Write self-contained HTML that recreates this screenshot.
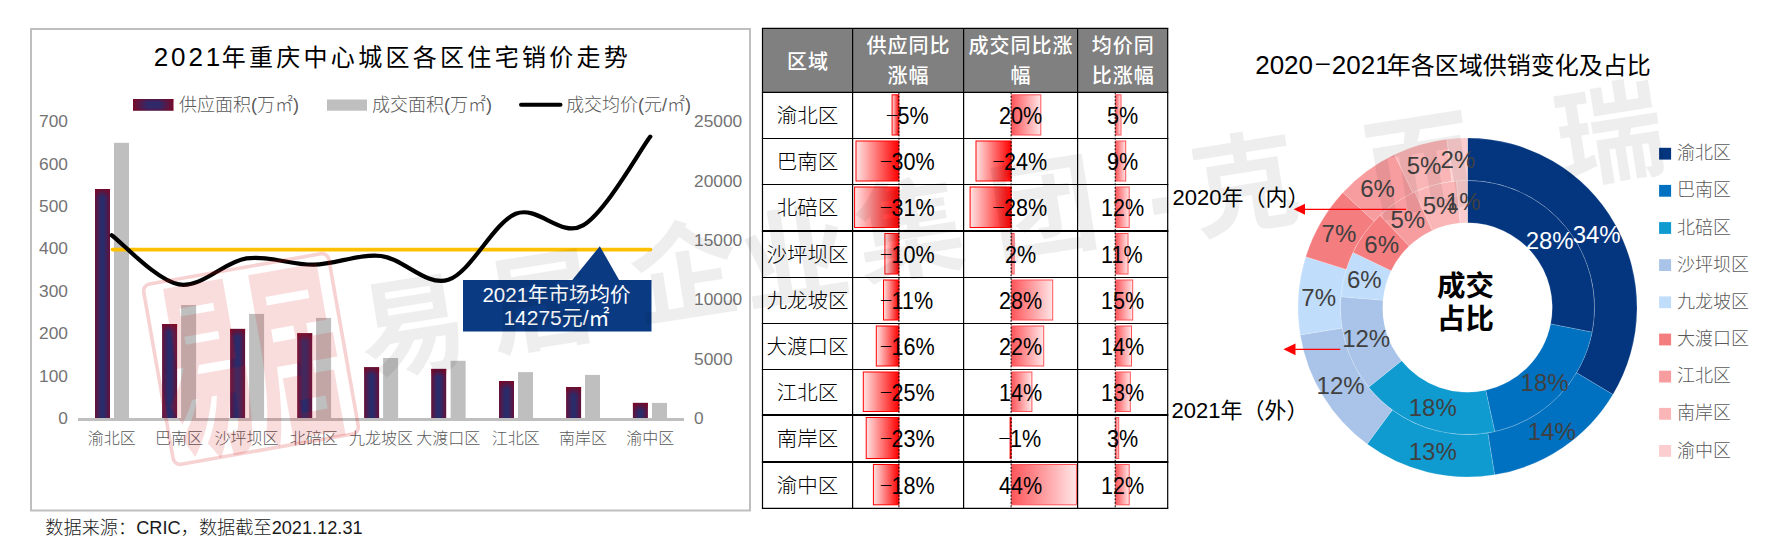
<!DOCTYPE html>
<html lang="zh"><head><meta charset="utf-8"><title>2021年重庆中心城区各区住宅销价走势</title>
<style>html,body{margin:0;padding:0;background:#fff;}body{width:1786px;height:556px;overflow:hidden;}svg{display:block;font-family:"Liberation Sans", "Noto Sans CJK SC", sans-serif;}</style>
</head><body>
<svg width="1786" height="556" viewBox="0 0 1786 556">
<defs>
<linearGradient id="gb" x1="0" x2="1" y1="0" y2="0"><stop offset="0" stop-color="#66103a"/><stop offset="0.4" stop-color="#2a2b6a"/><stop offset="0.6" stop-color="#2a2b6a"/><stop offset="1" stop-color="#66103a"/></linearGradient>
<linearGradient id="gt" x1="0" x2="0" y1="0" y2="1"><stop offset="0" stop-color="#80041f"/><stop offset="1" stop-color="#80041f" stop-opacity="0"/></linearGradient>
<linearGradient id="gbt" x1="0" x2="0" y1="1" y2="0"><stop offset="0" stop-color="#80041f"/><stop offset="1" stop-color="#80041f" stop-opacity="0"/></linearGradient>
<linearGradient id="neg" x1="1" x2="0" y1="0" y2="0"><stop offset="0" stop-color="#ff0000"/><stop offset="1" stop-color="#ffe3e3"/></linearGradient>
<linearGradient id="pos" x1="0" x2="1" y1="0" y2="0"><stop offset="0" stop-color="#ff555a"/><stop offset="1" stop-color="#ffe6e7"/></linearGradient>
</defs>
<rect width="1786" height="556" fill="#fff"/>
<g id="left-chart">
<rect x="31" y="29" width="719" height="481.5" fill="#fff" stroke="#bfbfbf" stroke-width="2"/>
<text x="153.7" y="66" font-size="24" fill="#000" letter-spacing="3.3"><tspan font-size="26" letter-spacing="2.9">2021</tspan><tspan dx="-1.5">年</tspan>重庆中心城区各区住宅销价走势</text>
<linearGradient id="gb2" x1="0" x2="1" y1="0" y2="0"><stop offset="0" stop-color="#780a2a"/><stop offset="0.35" stop-color="#30296a"/><stop offset="0.65" stop-color="#30296a"/><stop offset="1" stop-color="#780a2a"/></linearGradient>
<rect x="133" y="99" width="40.5" height="11.7" fill="url(#gb2)"/>
<rect x="133" y="99" width="40.5" height="3.5" fill="url(#gt)" opacity="0.45"/><rect x="133" y="107.2" width="40.5" height="3.5" fill="url(#gbt)" opacity="0.45"/>
<text x="179" y="111" font-size="18" fill="#595959" font-weight="300">供应面积(万㎡)</text>
<rect x="327" y="99.5" width="40" height="11.2" fill="#bfbfbf"/>
<text x="372" y="111" font-size="18" fill="#595959" font-weight="300">成交面积(万㎡)</text>
<line x1="521" y1="104.7" x2="560.5" y2="104.7" stroke="#000" stroke-width="4" stroke-linecap="round"/>
<text x="566" y="111" font-size="18" fill="#595959" font-weight="300">成交均价(元/㎡)</text>
<text x="68" y="424.0" font-size="17.33" fill="#737373" text-anchor="end">0</text>
<text x="68" y="381.6" font-size="17.33" fill="#737373" text-anchor="end">100</text>
<text x="68" y="339.2" font-size="17.33" fill="#737373" text-anchor="end">200</text>
<text x="68" y="296.8" font-size="17.33" fill="#737373" text-anchor="end">300</text>
<text x="68" y="254.4" font-size="17.33" fill="#737373" text-anchor="end">400</text>
<text x="68" y="212.0" font-size="17.33" fill="#737373" text-anchor="end">500</text>
<text x="68" y="169.6" font-size="17.33" fill="#737373" text-anchor="end">600</text>
<text x="68" y="127.2" font-size="17.33" fill="#737373" text-anchor="end">700</text>
<text x="694" y="424.2" font-size="17.33" fill="#737373">0</text>
<text x="694" y="364.8" font-size="17.33" fill="#737373">5000</text>
<text x="694" y="305.4" font-size="17.33" fill="#737373">10000</text>
<text x="694" y="245.9" font-size="17.33" fill="#737373">15000</text>
<text x="694" y="186.5" font-size="17.33" fill="#737373">20000</text>
<text x="694" y="127.1" font-size="17.33" fill="#737373">25000</text>
<rect x="95.0" y="189.0" width="15" height="230.5" fill="url(#gb)"/>
<rect x="95.0" y="189.0" width="15" height="8" fill="url(#gt)" opacity="0.8"/>
<rect x="114.0" y="142.8" width="15" height="276.7" fill="#bfbfbf"/>
<rect x="162.1" y="324.0" width="15" height="95.5" fill="url(#gb)"/>
<rect x="162.1" y="324.0" width="15" height="8" fill="url(#gt)" opacity="0.8"/>
<rect x="181.1" y="305.0" width="15" height="114.5" fill="#bfbfbf"/>
<rect x="230.1" y="328.9" width="15" height="90.6" fill="url(#gb)"/>
<rect x="230.1" y="328.9" width="15" height="8" fill="url(#gt)" opacity="0.8"/>
<rect x="249.1" y="313.9" width="15" height="105.6" fill="#bfbfbf"/>
<rect x="297.2" y="333.2" width="15" height="86.3" fill="url(#gb)"/>
<rect x="297.2" y="333.2" width="15" height="8" fill="url(#gt)" opacity="0.8"/>
<rect x="316.1" y="317.9" width="15" height="101.6" fill="#bfbfbf"/>
<rect x="364.1" y="367.2" width="15" height="52.3" fill="url(#gb)"/>
<rect x="364.1" y="367.2" width="15" height="8" fill="url(#gt)" opacity="0.8"/>
<rect x="383.1" y="358.0" width="15" height="61.5" fill="#bfbfbf"/>
<rect x="431.2" y="368.9" width="15" height="50.6" fill="url(#gb)"/>
<rect x="431.2" y="368.9" width="15" height="8" fill="url(#gt)" opacity="0.8"/>
<rect x="450.6" y="360.8" width="15" height="58.7" fill="#bfbfbf"/>
<rect x="499.0" y="381.0" width="15" height="38.5" fill="url(#gb)"/>
<rect x="499.0" y="381.0" width="15" height="8" fill="url(#gt)" opacity="0.8"/>
<rect x="518.0" y="372.1" width="15" height="47.4" fill="#bfbfbf"/>
<rect x="566.1" y="387.0" width="15" height="32.5" fill="url(#gb)"/>
<rect x="566.1" y="387.0" width="15" height="8" fill="url(#gt)" opacity="0.8"/>
<rect x="585.0" y="374.9" width="15" height="44.6" fill="#bfbfbf"/>
<rect x="632.9" y="402.9" width="15" height="16.6" fill="url(#gb)"/>
<rect x="632.9" y="402.9" width="15" height="8" fill="url(#gt)" opacity="0.8"/>
<rect x="652.0" y="402.9" width="15" height="16.6" fill="#bfbfbf"/>
<line x1="78" y1="419.5" x2="684" y2="419.5" stroke="#bfbfbf" stroke-width="3"/>
<text x="111.7" y="444" font-size="16" fill="#595959" text-anchor="middle" font-weight="300">渝北区</text>
<text x="179.0" y="444" font-size="16" fill="#595959" text-anchor="middle" font-weight="300">巴南区</text>
<text x="246.4" y="444" font-size="16" fill="#595959" text-anchor="middle" font-weight="300">沙坪坝区</text>
<text x="313.7" y="444" font-size="16" fill="#595959" text-anchor="middle" font-weight="300">北碚区</text>
<text x="381.0" y="444" font-size="16" fill="#595959" text-anchor="middle" font-weight="300">九龙坡区</text>
<text x="448.3" y="444" font-size="16" fill="#595959" text-anchor="middle" font-weight="300">大渡口区</text>
<text x="515.7" y="444" font-size="16" fill="#595959" text-anchor="middle" font-weight="300">江北区</text>
<text x="583.0" y="444" font-size="16" fill="#595959" text-anchor="middle" font-weight="300">南岸区</text>
<text x="650.3" y="444" font-size="16" fill="#595959" text-anchor="middle" font-weight="300">渝中区</text>
<line x1="112.5" y1="249.6" x2="650.5" y2="249.6" stroke="#ffc000" stroke-width="3.6" stroke-linecap="round"/>
<path d="M463 280 H572.3 L599.8 246.2 L619.1 280 H651.5 V331.5 H463 Z" fill="#0a3a82"/>
<text x="556.5" y="301.5" font-size="20.5" fill="#fff" text-anchor="middle">2021年市场均价</text>
<text x="556.5" y="325" font-size="21" fill="#fff" text-anchor="middle">14275元/㎡</text>
<path d="M111.7 235.2 C122.9 243.4 156.6 280.5 179.0 284.4 C201.5 288.3 223.9 261.7 246.4 258.4 C268.8 255.1 291.2 265.1 313.7 264.7 C336.1 264.3 358.6 253.5 381.0 256.0 C403.5 258.5 425.9 286.8 448.3 279.8 C470.8 272.8 493.2 222.9 515.7 213.8 C538.1 204.7 560.6 238.3 583.0 225.4 C605.5 212.5 639.1 151.4 650.3 136.6" fill="none" stroke="#000" stroke-width="4.2" stroke-linecap="round" stroke-linejoin="round"/>
</g>
<text x="45.3" y="534" font-size="18.2" fill="#1a1a1a" font-weight="300">数据来源：CRIC，数据截至2021.12.31</text>
<g id="table">
<rect x="762.5" y="28.4" width="405.2" height="63.9" fill="#808080"/>
<rect x="892.1" y="94.8" width="6.7" height="40.2" fill="url(#neg)" stroke="#ff0000" stroke-width="1"/>
<rect x="1011.6" y="94.8" width="29.2" height="40.2" fill="url(#pos)" stroke="#ff555a" stroke-width="1"/>
<rect x="1115.7" y="94.8" width="5.3" height="40.2" fill="url(#pos)" stroke="#ff555a" stroke-width="1"/>
<rect x="856.0" y="141.0" width="42.8" height="40.0" fill="url(#neg)" stroke="#ff0000" stroke-width="1"/>
<rect x="976.0" y="141.0" width="35.1" height="40.0" fill="url(#neg)" stroke="#ff0000" stroke-width="1"/>
<rect x="1115.7" y="141.0" width="10.0" height="40.0" fill="url(#pos)" stroke="#ff555a" stroke-width="1"/>
<rect x="854.6" y="187.0" width="44.3" height="40.5" fill="url(#neg)" stroke="#ff0000" stroke-width="1"/>
<rect x="970.1" y="187.0" width="41.1" height="40.5" fill="url(#neg)" stroke="#ff0000" stroke-width="1"/>
<rect x="1115.7" y="187.0" width="13.5" height="40.5" fill="url(#pos)" stroke="#ff555a" stroke-width="1"/>
<rect x="884.9" y="233.5" width="13.9" height="40.5" fill="url(#neg)" stroke="#ff0000" stroke-width="1"/>
<rect x="1011.6" y="233.5" width="2.5" height="40.5" fill="url(#pos)" stroke="#ff555a" stroke-width="1"/>
<rect x="1115.7" y="233.5" width="12.3" height="40.5" fill="url(#pos)" stroke="#ff555a" stroke-width="1"/>
<rect x="883.5" y="280.0" width="15.4" height="40.0" fill="url(#neg)" stroke="#ff0000" stroke-width="1"/>
<rect x="1011.6" y="280.0" width="41.1" height="40.0" fill="url(#pos)" stroke="#ff555a" stroke-width="1"/>
<rect x="1115.7" y="280.0" width="17.0" height="40.0" fill="url(#pos)" stroke="#ff555a" stroke-width="1"/>
<rect x="876.3" y="326.0" width="22.6" height="40.0" fill="url(#neg)" stroke="#ff0000" stroke-width="1"/>
<rect x="1011.6" y="326.0" width="32.1" height="40.0" fill="url(#pos)" stroke="#ff555a" stroke-width="1"/>
<rect x="1115.7" y="326.0" width="15.8" height="40.0" fill="url(#pos)" stroke="#ff555a" stroke-width="1"/>
<rect x="863.3" y="372.0" width="35.6" height="39.5" fill="url(#neg)" stroke="#ff0000" stroke-width="1"/>
<rect x="1011.6" y="372.0" width="20.3" height="39.5" fill="url(#pos)" stroke="#ff555a" stroke-width="1"/>
<rect x="1115.7" y="372.0" width="14.6" height="39.5" fill="url(#pos)" stroke="#ff555a" stroke-width="1"/>
<rect x="866.2" y="417.5" width="32.7" height="41.0" fill="url(#neg)" stroke="#ff0000" stroke-width="1"/>
<rect x="1010.1" y="417.5" width="1.0" height="41.0" fill="url(#neg)" stroke="#ff0000" stroke-width="1"/>
<rect x="1115.7" y="417.5" width="3.0" height="41.0" fill="url(#pos)" stroke="#ff555a" stroke-width="1"/>
<rect x="873.4" y="464.5" width="25.5" height="40.3" fill="url(#neg)" stroke="#ff0000" stroke-width="1"/>
<rect x="1011.6" y="464.5" width="64.8" height="40.3" fill="url(#pos)" stroke="#ff555a" stroke-width="1"/>
<rect x="1115.7" y="464.5" width="13.5" height="40.3" fill="url(#pos)" stroke="#ff555a" stroke-width="1"/>
<line x1="898.9" y1="92.3" x2="898.9" y2="508.3" stroke="#000" stroke-width="1" stroke-dasharray="2 1.5"/>
<line x1="1011.1" y1="92.3" x2="1011.1" y2="508.3" stroke="#000" stroke-width="1" stroke-dasharray="2 1.5"/>
<line x1="1115.2" y1="92.3" x2="1115.2" y2="508.3" stroke="#000" stroke-width="1" stroke-dasharray="2 1.5"/>
<line x1="761.9" y1="28.4" x2="1168.3" y2="28.4" stroke="#000" stroke-width="1.2"/>
<line x1="761.9" y1="92.3" x2="1168.3" y2="92.3" stroke="#000" stroke-width="1.2"/>
<line x1="761.9" y1="138.5" x2="1168.3" y2="138.5" stroke="#000" stroke-width="1.2"/>
<line x1="761.9" y1="184.5" x2="1168.3" y2="184.5" stroke="#000" stroke-width="1.2"/>
<line x1="761.9" y1="231.0" x2="1168.3" y2="231.0" stroke="#000" stroke-width="2.1"/>
<line x1="761.9" y1="277.5" x2="1168.3" y2="277.5" stroke="#000" stroke-width="1.2"/>
<line x1="761.9" y1="323.5" x2="1168.3" y2="323.5" stroke="#000" stroke-width="1.2"/>
<line x1="761.9" y1="369.5" x2="1168.3" y2="369.5" stroke="#000" stroke-width="1.2"/>
<line x1="761.9" y1="415.0" x2="1168.3" y2="415.0" stroke="#000" stroke-width="2.1"/>
<line x1="761.9" y1="462.0" x2="1168.3" y2="462.0" stroke="#000" stroke-width="2.1"/>
<line x1="761.9" y1="508.3" x2="1168.3" y2="508.3" stroke="#000" stroke-width="1.2"/>
<line x1="762.5" y1="28.4" x2="762.5" y2="508.3" stroke="#000" stroke-width="1.2"/>
<line x1="852.6" y1="28.4" x2="852.6" y2="508.3" stroke="#000" stroke-width="1.2"/>
<line x1="963.6" y1="28.4" x2="963.6" y2="508.3" stroke="#000" stroke-width="1.2"/>
<line x1="1077.6" y1="28.4" x2="1077.6" y2="508.3" stroke="#000" stroke-width="1.2"/>
<line x1="1167.7" y1="28.4" x2="1167.7" y2="508.3" stroke="#000" stroke-width="1.2"/>
<text x="808.0" y="68.5" font-size="20" fill="#fff" text-anchor="middle" font-weight="500" letter-spacing="1">区域</text>
<text x="908.6" y="53.0" font-size="20" fill="#fff" text-anchor="middle" font-weight="500" letter-spacing="1">供应同比</text>
<text x="908.6" y="83.2" font-size="20" fill="#fff" text-anchor="middle" font-weight="500" letter-spacing="1">涨幅</text>
<text x="1021.1" y="53.0" font-size="20" fill="#fff" text-anchor="middle" font-weight="500" letter-spacing="1">成交同比涨</text>
<text x="1021.1" y="83.2" font-size="20" fill="#fff" text-anchor="middle" font-weight="500" letter-spacing="1">幅</text>
<text x="1123.2" y="53.0" font-size="20" fill="#fff" text-anchor="middle" font-weight="500" letter-spacing="1">均价同</text>
<text x="1123.2" y="83.2" font-size="20" fill="#fff" text-anchor="middle" font-weight="500" letter-spacing="1">比涨幅</text>
<text x="807.5" y="122.9" font-size="20.5" fill="#000" text-anchor="middle" font-weight="300">渝北区</text>
<text transform="translate(885.1 118.8) scale(3.54 1)" font-size="12" fill="#000">-</text>
<text transform="translate(897.5 124.0) scale(1 1.11)" font-size="21.6" fill="#000">5%</text>
<text transform="translate(999.0 124.0) scale(1 1.11)" font-size="21.6" fill="#000">20%</text>
<text transform="translate(1107.0 124.0) scale(1 1.11)" font-size="21.6" fill="#000">5%</text>
<text x="807.5" y="169.0" font-size="20.5" fill="#000" text-anchor="middle" font-weight="300">巴南区</text>
<text transform="translate(879.1 164.9) scale(3.54 1)" font-size="12" fill="#000">-</text>
<text transform="translate(891.5 170.1) scale(1 1.11)" font-size="21.6" fill="#000">30%</text>
<text transform="translate(991.6 164.9) scale(3.54 1)" font-size="12" fill="#000">-</text>
<text transform="translate(1004.0 170.1) scale(1 1.11)" font-size="21.6" fill="#000">24%</text>
<text transform="translate(1107.0 170.1) scale(1 1.11)" font-size="21.6" fill="#000">9%</text>
<text x="807.5" y="215.2" font-size="20.5" fill="#000" text-anchor="middle" font-weight="300">北碚区</text>
<text transform="translate(879.1 211.2) scale(3.54 1)" font-size="12" fill="#000">-</text>
<text transform="translate(891.5 216.3) scale(1 1.11)" font-size="21.6" fill="#000">31%</text>
<text transform="translate(991.6 211.2) scale(3.54 1)" font-size="12" fill="#000">-</text>
<text transform="translate(1004.0 216.3) scale(1 1.11)" font-size="21.6" fill="#000">28%</text>
<text transform="translate(1101.0 216.3) scale(1 1.11)" font-size="21.6" fill="#000">12%</text>
<text x="807.5" y="261.8" font-size="20.5" fill="#000" text-anchor="middle" font-weight="300">沙坪坝区</text>
<text transform="translate(879.1 257.6) scale(3.54 1)" font-size="12" fill="#000">-</text>
<text transform="translate(891.5 262.9) scale(1 1.11)" font-size="21.6" fill="#000">10%</text>
<text transform="translate(1005.0 262.9) scale(1 1.11)" font-size="21.6" fill="#000">2%</text>
<text transform="translate(1101.0 262.9) scale(1 1.11)" font-size="21.6" fill="#000">11%</text>
<text x="807.5" y="308.0" font-size="20.5" fill="#000" text-anchor="middle" font-weight="300">九龙坡区</text>
<text transform="translate(879.1 303.9) scale(3.54 1)" font-size="12" fill="#000">-</text>
<text transform="translate(891.5 309.1) scale(1 1.11)" font-size="21.6" fill="#000">11%</text>
<text transform="translate(999.0 309.1) scale(1 1.11)" font-size="21.6" fill="#000">28%</text>
<text transform="translate(1101.0 309.1) scale(1 1.11)" font-size="21.6" fill="#000">15%</text>
<text x="807.5" y="354.0" font-size="20.5" fill="#000" text-anchor="middle" font-weight="300">大渡口区</text>
<text transform="translate(879.1 349.9) scale(3.54 1)" font-size="12" fill="#000">-</text>
<text transform="translate(891.5 355.1) scale(1 1.11)" font-size="21.6" fill="#000">16%</text>
<text transform="translate(999.0 355.1) scale(1 1.11)" font-size="21.6" fill="#000">22%</text>
<text transform="translate(1101.0 355.1) scale(1 1.11)" font-size="21.6" fill="#000">14%</text>
<text x="807.5" y="399.8" font-size="20.5" fill="#000" text-anchor="middle" font-weight="300">江北区</text>
<text transform="translate(879.1 395.6) scale(3.54 1)" font-size="12" fill="#000">-</text>
<text transform="translate(891.5 400.9) scale(1 1.11)" font-size="21.6" fill="#000">25%</text>
<text transform="translate(999.0 400.9) scale(1 1.11)" font-size="21.6" fill="#000">14%</text>
<text transform="translate(1101.0 400.9) scale(1 1.11)" font-size="21.6" fill="#000">13%</text>
<text x="807.5" y="446.0" font-size="20.5" fill="#000" text-anchor="middle" font-weight="300">南岸区</text>
<text transform="translate(879.1 441.9) scale(3.54 1)" font-size="12" fill="#000">-</text>
<text transform="translate(891.5 447.1) scale(1 1.11)" font-size="21.6" fill="#000">23%</text>
<text transform="translate(997.6 441.9) scale(3.54 1)" font-size="12" fill="#000">-</text>
<text transform="translate(1010.0 447.1) scale(1 1.11)" font-size="21.6" fill="#000">1%</text>
<text transform="translate(1107.0 447.1) scale(1 1.11)" font-size="21.6" fill="#000">3%</text>
<text x="807.5" y="492.6" font-size="20.5" fill="#000" text-anchor="middle" font-weight="300">渝中区</text>
<text transform="translate(879.1 488.5) scale(3.54 1)" font-size="12" fill="#000">-</text>
<text transform="translate(891.5 493.8) scale(1 1.11)" font-size="21.6" fill="#000">18%</text>
<text transform="translate(999.0 493.8) scale(1 1.11)" font-size="21.6" fill="#000">44%</text>
<text transform="translate(1101.0 493.8) scale(1 1.11)" font-size="21.6" fill="#000">12%</text>
</g>
<g id="donut">
<text x="1255.2" y="73.6" font-size="26" fill="#000">2020</text>
<text transform="translate(1313.4 69.9) scale(2.66 1)" font-size="21" fill="#000">-</text>
<text x="1331.8" y="73.6" font-size="24" fill="#000"><tspan font-size="26">2021</tspan><tspan dx="-2.8">年各区域供销变化及占比</tspan></text>
<path d="M1467.50 180.40 A127.10 127.10 0 0 1 1592.18 332.19 L1550.64 323.96 A84.75 84.75 0 0 0 1467.50 222.75 Z" fill="#03367f" stroke="#ffffff" stroke-opacity="0.35" stroke-width="0.5"/>
<path d="M1467.50 138.00 A169.50 169.50 0 0 1 1612.94 394.55 L1576.56 372.77 A127.10 127.10 0 0 0 1467.50 180.40 Z" fill="#03367f" stroke="#ffffff" stroke-opacity="0.35" stroke-width="0.5"/>
<path d="M1592.18 332.19 A127.10 127.10 0 0 1 1494.79 431.64 L1485.70 390.27 A84.75 84.75 0 0 0 1550.64 323.96 Z" fill="#0070c0" stroke="#ffffff" stroke-opacity="0.35" stroke-width="0.5"/>
<path d="M1612.94 394.55 A169.50 169.50 0 0 1 1494.60 474.82 L1487.82 432.97 A127.10 127.10 0 0 0 1576.56 372.77 Z" fill="#0070c0" stroke="#ffffff" stroke-opacity="0.35" stroke-width="0.5"/>
<path d="M1494.79 431.64 A127.10 127.10 0 0 1 1368.59 387.31 L1401.54 360.72 A84.75 84.75 0 0 0 1485.70 390.27 Z" fill="#0f9ad0" stroke="#ffffff" stroke-opacity="0.35" stroke-width="0.5"/>
<path d="M1494.60 474.82 A169.50 169.50 0 0 1 1367.15 444.10 L1392.26 409.93 A127.10 127.10 0 0 0 1487.82 432.97 Z" fill="#0f9ad0" stroke="#ffffff" stroke-opacity="0.35" stroke-width="0.5"/>
<path d="M1368.59 387.31 A127.10 127.10 0 0 1 1340.86 296.64 L1383.06 300.26 A84.75 84.75 0 0 0 1401.54 360.72 Z" fill="#a9c4e8" stroke="#ffffff" stroke-opacity="0.35" stroke-width="0.5"/>
<path d="M1367.15 444.10 A169.50 169.50 0 0 1 1300.23 334.89 L1342.07 328.04 A127.10 127.10 0 0 0 1392.26 409.93 Z" fill="#a9c4e8" stroke="#ffffff" stroke-opacity="0.35" stroke-width="0.5"/>
<path d="M1340.86 296.64 A127.10 127.10 0 0 1 1352.97 252.38 L1391.13 270.75 A84.75 84.75 0 0 0 1383.06 300.26 Z" fill="#c1ddfc" stroke="#ffffff" stroke-opacity="0.35" stroke-width="0.5"/>
<path d="M1300.23 334.89 A169.50 169.50 0 0 1 1305.76 256.81 L1346.22 269.49 A127.10 127.10 0 0 0 1342.07 328.04 Z" fill="#c1ddfc" stroke="#ffffff" stroke-opacity="0.35" stroke-width="0.5"/>
<path d="M1352.97 252.38 A127.10 127.10 0 0 1 1380.01 215.30 L1409.16 246.02 A84.75 84.75 0 0 0 1391.13 270.75 Z" fill="#f47d7f" stroke="#ffffff" stroke-opacity="0.35" stroke-width="0.5"/>
<path d="M1305.76 256.81 A169.50 169.50 0 0 1 1342.93 192.55 L1374.09 221.31 A127.10 127.10 0 0 0 1346.22 269.49 Z" fill="#f47d7f" stroke="#ffffff" stroke-opacity="0.35" stroke-width="0.5"/>
<path d="M1380.01 215.30 A127.10 127.10 0 0 1 1414.79 191.84 L1432.35 230.38 A84.75 84.75 0 0 0 1409.16 246.02 Z" fill="#f89d9f" stroke="#ffffff" stroke-opacity="0.35" stroke-width="0.5"/>
<path d="M1342.93 192.55 A169.50 169.50 0 0 1 1394.53 154.51 L1412.78 192.78 A127.10 127.10 0 0 0 1374.09 221.31 Z" fill="#f89d9f" stroke="#ffffff" stroke-opacity="0.35" stroke-width="0.5"/>
<path d="M1414.79 191.84 A127.10 127.10 0 0 1 1456.42 180.88 L1460.11 223.07 A84.75 84.75 0 0 0 1432.35 230.38 Z" fill="#fab6b7" stroke="#ffffff" stroke-opacity="0.35" stroke-width="0.5"/>
<path d="M1394.53 154.51 A169.50 169.50 0 0 1 1446.84 139.26 L1452.01 181.35 A127.10 127.10 0 0 0 1412.78 192.78 Z" fill="#fab6b7" stroke="#ffffff" stroke-opacity="0.35" stroke-width="0.5"/>
<path d="M1456.42 180.88 A127.10 127.10 0 0 1 1467.50 180.40 L1467.50 222.75 A84.75 84.75 0 0 0 1460.11 223.07 Z" fill="#fccdce" stroke="#ffffff" stroke-opacity="0.35" stroke-width="0.5"/>
<path d="M1446.84 139.26 A169.50 169.50 0 0 1 1467.50 138.00 L1467.50 180.40 A127.10 127.10 0 0 0 1452.01 181.35 Z" fill="#fccdce" stroke="#ffffff" stroke-opacity="0.35" stroke-width="0.5"/>
<text x="1549.7" y="248.8" font-size="24" fill="#fff" text-anchor="middle">28%</text>
<text x="1596.7" y="243.4" font-size="24" fill="#fff" text-anchor="middle">34%</text>
<text x="1544.6" y="390.8" font-size="24" fill="#404040" text-anchor="middle">18%</text>
<text x="1551.8" y="439.5" font-size="24" fill="#404040" text-anchor="middle">14%</text>
<text x="1432.8" y="416.4" font-size="24" fill="#404040" text-anchor="middle">18%</text>
<text x="1432.8" y="460.4" font-size="24" fill="#404040" text-anchor="middle">13%</text>
<text x="1366.2" y="347.4" font-size="24" fill="#404040" text-anchor="middle">12%</text>
<text x="1340.6" y="393.8" font-size="24" fill="#404040" text-anchor="middle">12%</text>
<text x="1364.3" y="287.6" font-size="24" fill="#404040" text-anchor="middle">6%</text>
<text x="1318.7" y="305.8" font-size="24" fill="#404040" text-anchor="middle">7%</text>
<text x="1381.7" y="252.9" font-size="24" fill="#404040" text-anchor="middle">6%</text>
<text x="1338.9" y="241.6" font-size="24" fill="#404040" text-anchor="middle">7%</text>
<text x="1407.8" y="228.0" font-size="24" fill="#404040" text-anchor="middle">5%</text>
<text x="1377.6" y="197.2" font-size="24" fill="#404040" text-anchor="middle">6%</text>
<text x="1440.0" y="213.7" font-size="24" fill="#404040" text-anchor="middle">5%</text>
<text x="1424.1" y="173.9" font-size="24" fill="#404040" text-anchor="middle">5%</text>
<text x="1463.2" y="210.2" font-size="24" fill="#404040" text-anchor="middle">1%</text>
<text x="1457.9" y="167.6" font-size="24" fill="#404040" text-anchor="middle">2%</text>
<text x="1465.5" y="296" font-size="28.5" font-weight="700" fill="#000" text-anchor="middle">成交</text>
<text x="1465.5" y="329.2" font-size="28.5" font-weight="700" fill="#000" text-anchor="middle">占比</text>
<rect x="1659.1" y="147.8" width="12" height="11.8" fill="#03367f"/>
<text x="1677" y="159.3" font-size="18" fill="#595959" font-weight="300">渝北区</text>
<rect x="1659.1" y="184.9" width="12" height="11.8" fill="#0070c0"/>
<text x="1677" y="196.4" font-size="18" fill="#595959" font-weight="300">巴南区</text>
<rect x="1659.1" y="222.1" width="12" height="11.8" fill="#0f9ad0"/>
<text x="1677" y="233.6" font-size="18" fill="#595959" font-weight="300">北碚区</text>
<rect x="1659.1" y="259.2" width="12" height="11.8" fill="#a9c4e8"/>
<text x="1677" y="270.8" font-size="18" fill="#595959" font-weight="300">沙坪坝区</text>
<rect x="1659.1" y="296.4" width="12" height="11.8" fill="#c1ddfc"/>
<text x="1677" y="307.9" font-size="18" fill="#595959" font-weight="300">九龙坡区</text>
<rect x="1659.1" y="333.6" width="12" height="11.8" fill="#f47d7f"/>
<text x="1677" y="345.1" font-size="18" fill="#595959" font-weight="300">大渡口区</text>
<rect x="1659.1" y="370.7" width="12" height="11.8" fill="#f89d9f"/>
<text x="1677" y="382.2" font-size="18" fill="#595959" font-weight="300">江北区</text>
<rect x="1659.1" y="407.9" width="12" height="11.8" fill="#fab6b7"/>
<text x="1677" y="419.4" font-size="18" fill="#595959" font-weight="300">南岸区</text>
<rect x="1659.1" y="445.0" width="12" height="11.8" fill="#fccdce"/>
<text x="1677" y="456.5" font-size="18" fill="#595959" font-weight="300">渝中区</text>
<text x="1172.5" y="205.3" font-size="22" fill="#000">2020年（内）</text>
<line x1="1406" y1="209.3" x2="1300" y2="209.3" stroke="#ff0000" stroke-width="1.3"/>
<path d="M1293.6 209.3 L1305 203.8 V214.8 Z" fill="#ff0000"/>
<text x="1171.5" y="418.3" font-size="22" fill="#000">2021年（外）</text>
<line x1="1340.2" y1="349.3" x2="1290" y2="349.3" stroke="#ff0000" stroke-width="1.3"/>
<path d="M1283.4 349.3 L1295.5 343.4 V355.2 Z" fill="#ff0000"/>
</g>
<g id="watermark" pointer-events="none">
<g transform="rotate(-10 251 359)">
<rect x="157" y="267.5" width="188" height="183" rx="7" fill="none" stroke="#d81e1e" stroke-opacity="0.2" stroke-width="3.6"/>
<text transform="translate(251 432) scale(1.07 2.3)" font-size="84" font-weight="900" text-anchor="middle" fill="#d81e1e" fill-opacity="0.15">易居</text>
</g>
<text transform="translate(413 328) rotate(-9)" font-size="108" font-weight="700" fill="#000" fill-opacity="0.065" text-anchor="middle" dominant-baseline="central">易</text>
<text transform="translate(542 303) rotate(-9)" font-size="108" font-weight="700" fill="#000" fill-opacity="0.065" text-anchor="middle" dominant-baseline="central">居</text>
<text transform="translate(685 274) rotate(-9)" font-size="108" font-weight="700" fill="#000" fill-opacity="0.065" text-anchor="middle" dominant-baseline="central">企</text>
<text transform="translate(795 260) rotate(-9)" font-size="108" font-weight="700" fill="#000" fill-opacity="0.065" text-anchor="middle" dominant-baseline="central">业</text>
<text transform="translate(910 232) rotate(-9)" font-size="108" font-weight="700" fill="#000" fill-opacity="0.065" text-anchor="middle" dominant-baseline="central">集</text>
<text transform="translate(1044 210) rotate(-9)" font-size="108" font-weight="700" fill="#000" fill-opacity="0.065" text-anchor="middle" dominant-baseline="central">团</text>
<text transform="translate(1163 204) rotate(-9)" font-size="108" font-weight="700" fill="#000" fill-opacity="0.065" text-anchor="middle" dominant-baseline="central">·</text>
<text transform="translate(1245 186) rotate(-9)" font-size="108" font-weight="700" fill="#000" fill-opacity="0.065" text-anchor="middle" dominant-baseline="central">克</text>
<text transform="translate(1420 167) rotate(-9)" font-size="108" font-weight="700" fill="#000" fill-opacity="0.065" text-anchor="middle" dominant-baseline="central">而</text>
<text transform="translate(1610 136) rotate(-9)" font-size="108" font-weight="700" fill="#000" fill-opacity="0.065" text-anchor="middle" dominant-baseline="central">瑞</text>
</g>
</svg></body></html>
